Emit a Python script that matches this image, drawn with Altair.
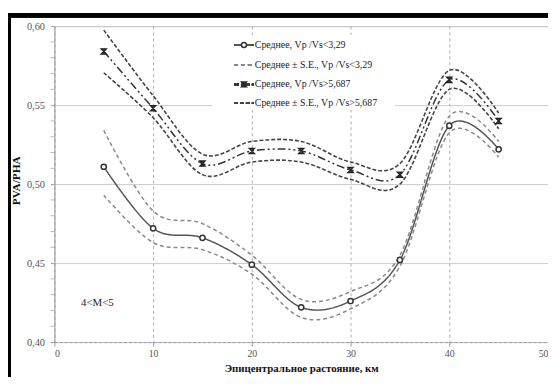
import altair as alt
import pandas as pd

# ---- data ----
distance = [5, 10, 15, 20, 25, 30, 35, 40, 45]
mean_low = [0.511, 0.472, 0.466, 0.449, 0.422, 0.426, 0.452, 0.537, 0.522]
se_low_up = [0.534, 0.483, 0.475, 0.455, 0.427, 0.432, 0.455, 0.543, 0.527]
se_low_dn = [0.493, 0.463, 0.4585, 0.443, 0.4156, 0.421, 0.448, 0.5325, 0.517]
mean_high = [0.584, 0.548, 0.513, 0.521, 0.521, 0.509, 0.506, 0.566, 0.540]
se_high_up = [0.5975, 0.556, 0.519, 0.527, 0.527, 0.514, 0.513, 0.572, 0.545]
se_high_dn = [0.5705, 0.542, 0.506, 0.514, 0.514, 0.503, 0.500, 0.560, 0.535]

x_ticks = [0, 10, 20, 30, 40, 50]
y_ticks = [0.40, 0.45, 0.50, 0.55, 0.60]
y_minor = [0.41, 0.42, 0.43, 0.44, 0.46, 0.47, 0.48, 0.49, 0.51, 0.52, 0.53,
           0.54, 0.56, 0.57, 0.58, 0.59]

legend_labels = [
    "Среднее, Vp /Vs<3,29",
    "Среднее ± S.E., Vp /Vs<3,29",
    "Среднее, Vp /Vs>5,687",
    "Среднее ± S.E., Vp /Vs>5,687",
]
annotation = "4<M<5"
x_title = "Эпицентральное растояние, км"
y_title = "PVA/PHA"

FONT = "Liberation Serif"
HOURGLASS = "M-1,-1L1,-1L-1,1L1,1Z"
W, H = 500, 320

df = pd.DataFrame({
    "d": distance,
    "mean_low": mean_low, "se_low_up": se_low_up, "se_low_dn": se_low_dn,
    "mean_high": mean_high, "se_high_up": se_high_up, "se_high_dn": se_high_dn,
})

xs = alt.Scale(domain=[0, 50], nice=False, zero=False)
ys = alt.Scale(domain=[0.40, 0.60], nice=False, zero=False)

x_axis = alt.Axis(values=x_ticks, title=x_title, grid=True, gridDash=[3, 3],
                  gridColor="#9a9a9a", gridWidth=0.8, domainColor="#999",
                  domainDash=[3, 2], tickColor="#999", tickSize=4,
                  labelPadding=3, labelFont=FONT, labelFontSize=10,
                  labelColor="#555", titleFont=FONT, titleFontSize=11,
                  titleFontWeight="bold", titleColor="#111", titleY=21,
                  titleBaseline="top")
y_axis = alt.Axis(values=y_ticks, title=y_title, grid=True, gridColor="#bdbdbd",
                  gridWidth=0.8, domainColor="#999", tickColor="#999",
                  tickSize=4, labelPadding=6, labelFont=FONT, labelFontSize=10.5,
                  labelColor="#555", labelExpr="replace(format(datum.value, '.2f'), '.', ',')",
                  titleFont=FONT, titleFontSize=11.5, titleFontWeight="bold",
                  titleColor="#111", titleX=-33, titleY=156)

base = alt.Chart(df)


def curve(field, color, dash, width):
    return base.mark_line(interpolate="cardinal", color=color, strokeDash=dash,
                          strokeWidth=width).encode(
        x=alt.X("d:Q", scale=xs, axis=x_axis),
        y=alt.Y(f"{field}:Q", scale=ys, axis=y_axis),
    )


legend_bg = alt.Chart(df).mark_rect(fill="white", stroke=None).encode(
    x=alt.value(160), x2=alt.value(345), y=alt.value(9), y2=alt.value(85))

lines = [
    curve("se_low_up", "#8a8a8a", [4, 3], 1.5),
    curve("se_low_dn", "#8a8a8a", [4, 3], 1.5),
    curve("mean_low", "#555", [1, 0], 1.5),
    curve("se_high_up", "#444", [4, 2], 1.6),
    curve("se_high_dn", "#444", [4, 2], 1.6),
    curve("mean_high", "#333", [8, 3, 2, 3, 2, 3], 1.5),
]

pts_low = base.mark_point(shape="circle", filled=True, fill="white", stroke="#333",
                          strokeWidth=1.5, size=28, opacity=1).encode(
    x=alt.X("d:Q", scale=xs), y=alt.Y("mean_low:Q", scale=ys))
pts_high = base.mark_point(shape=HOURGLASS, filled=True, fill="#555", stroke="#222",
                           strokeWidth=1.3, size=28, opacity=1).encode(
    x=alt.X("d:Q", scale=xs), y=alt.Y("mean_high:Q", scale=ys))

# minor ticks on the y axis
minor = alt.Chart(pd.DataFrame({"v": y_minor})).mark_rule(color="#aaa", strokeWidth=0.8).encode(
    y=alt.Y("v:Q", scale=ys), x=alt.value(-4), x2=alt.value(0))

# manual legend
leg_rows = [19, 39, 59, 78]
leg_styles = [("#555", [1, 0], 1.5), ("#8a8a8a", [4, 3], 1.5),
              ("#333", [5, 2, 2, 2], 1.5), ("#444", [4, 2], 1.6)]
leg_layers = []
for i, (row, (col, dash, w)) in enumerate(zip(leg_rows, leg_styles)):
    leg_layers.append(alt.Chart(df).mark_rule(color=col, strokeDash=dash, strokeWidth=w).encode(
        x=alt.value(182), x2=alt.value(202), y=alt.value(row)))
    leg_layers.append(alt.Chart(pd.DataFrame({"t": [legend_labels[i]]})).mark_text(
        align="left", baseline="middle", font=FONT, fontSize=10, color="#222").encode(
        x=alt.value(203), y=alt.value(row), text="t:N"))
leg_layers.append(alt.Chart(pd.DataFrame({"a": [0]})).mark_point(
    shape="circle", filled=True, fill="white", stroke="#333", strokeWidth=1.5, size=26, opacity=1).encode(
    x=alt.value(192), y=alt.value(leg_rows[0])))
leg_layers.append(alt.Chart(pd.DataFrame({"a": [0]})).mark_point(
    shape=HOURGLASS, filled=True, fill="#555", stroke="#222", strokeWidth=1.3, size=26, opacity=1).encode(
    x=alt.value(192), y=alt.value(leg_rows[2])))

note = alt.Chart(pd.DataFrame({"t": [annotation]})).mark_text(
    align="left", baseline="middle", font=FONT, fontSize=11, color="#222").encode(
    x=alt.value(27), y=alt.value(280), text="t:N")

# frame fragments of the scanned figure
frame_top = alt.Chart(df).mark_rule(color="black", strokeWidth=4).encode(
    x=alt.value(-47), x2=alt.value(W), y=alt.value(-11))
frame_left = alt.Chart(df).mark_rule(color="black", strokeWidth=3).encode(
    x=alt.value(-45.5), y=alt.value(-13), y2=alt.value(H + 35))

chart = alt.layer(
    legend_bg, minor, *lines, pts_low, pts_high, *leg_layers, note, frame_top, frame_left
).properties(
    width=W, height=H,
    autosize=alt.AutoSizeParams(type="none"),
    padding={"left": 47, "top": 16, "right": 0, "bottom": 35},
).configure_view(stroke=None).configure(background="white")

chart.save("out.html", embed_options={"renderer": "svg", "actions": False})
